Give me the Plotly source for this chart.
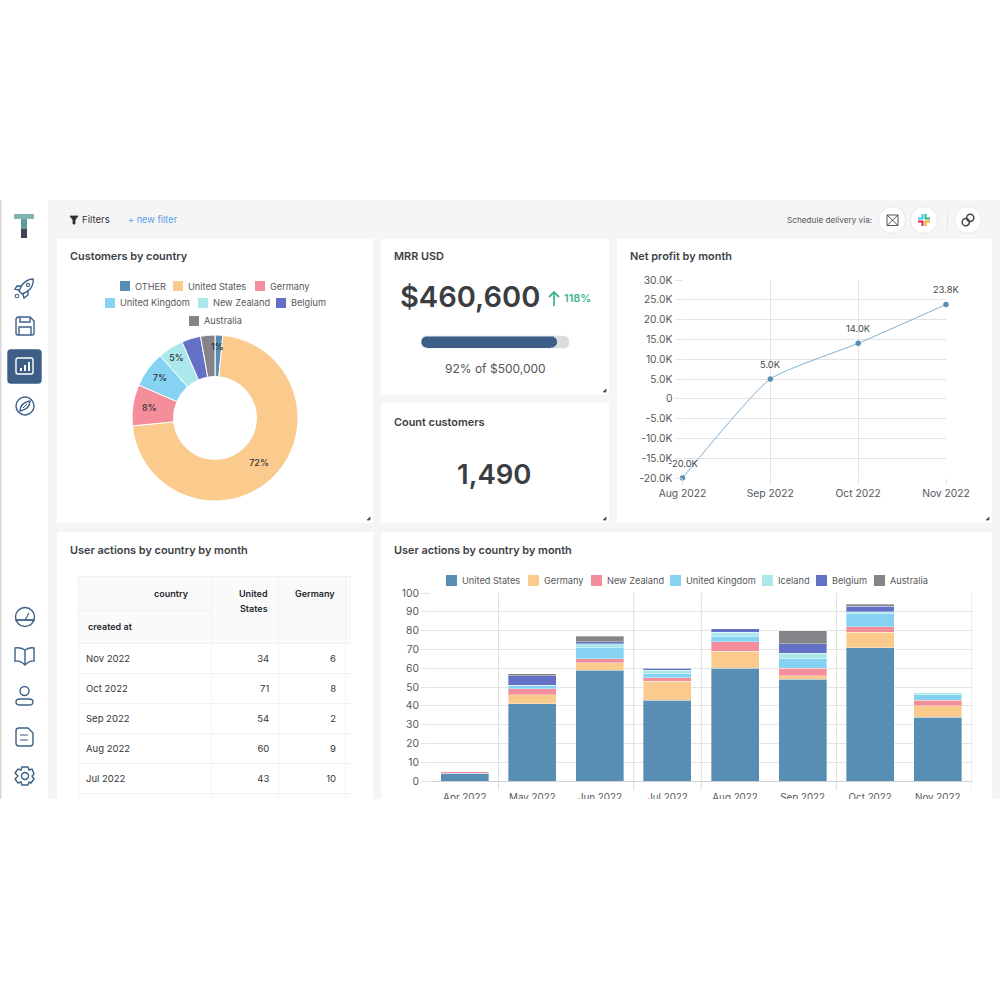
import re
import plotly.graph_objects as go

FONT = "Inter"
DARK = "#3b3f45"
NAVY = "#3d5f87"
GRID = "#e2e3e5"
CELL_LINE = "#ececec"

# customers donut
pie_labels = ["OTHER", "United States", "Germany", "United Kingdom", "New Zealand", "Belgium", "Australia"]
pie_values = [1.5, 72, 8, 7, 5, 3.7, 2.8]
pie_text = ["1%", "72%", "8%", "7%", "5%", "", ""]
pie_colors = ["#588eb3", "#fbcb8d", "#f48e9b", "#85d2f2", "#abe8ec", "#6470c6", "#858589"]

# net profit
profit_months = ["Aug 2022", "Sep 2022", "Oct 2022", "Nov 2022"]
profit_values = [-20000, 5000, 14000, 23800]
profit_labels = ["-20.0K", "5.0K", "14.0K", "23.8K"]
profit_ticks = [-20000, -15000, -10000, -5000, 0, 5000, 10000, 15000, 20000, 25000, 30000]
profit_ticktext = ["-20.0K", "-15.0K", "-10.0K", "-5.0K", "0", "5.0K", "10.0K", "15.0K", "20.0K", "25.0K", "30.0K"]

# metrics
mrr_value = 460600
mrr_goal = 500000
mrr_text = "$460,600"
mrr_change = "118%"
mrr_note = "92% of $500,000"
customers_text = "1,490"

# stacked bars
bar_months = ["Apr 2022", "May 2022", "Jun 2022", "Jul 2022", "Aug 2022", "Sep 2022", "Oct 2022", "Nov 2022"]
us = [4, 41, 59, 43, 60, 54, 71, 34]
germany = [0, 5, 4, 10, 9, 2, 8, 6]
new_zealand = [1, 3, 2, 2, 5, 4, 3, 3]
uk = [0, 2, 6, 2, 3, 5, 7, 3]
iceland = [0, 0, 2, 2, 2, 3, 1, 1]
belgium = [0, 5, 1, 1, 2, 5, 3, 0]
australia = [0, 1, 3, 0, 0, 7, 1, 0]
bar_names = ["United States", "Germany", "New Zealand", "United Kingdom", "Iceland", "Belgium", "Australia"]
bar_series = [us, germany, new_zealand, uk, iceland, belgium, australia]
bar_colors = ["#588eb3", "#fbcb8d", "#f48e9b", "#85d2f2", "#abe8ec", "#6470c6", "#858589"]

# table
table_months = ["Nov 2022", "Oct 2022", "Sep 2022", "Aug 2022", "Jul 2022", "Jun 2022"]
table_us = [34, 71, 54, 60, 43, 59]
table_germany = [6, 8, 2, 9, 10, 4]


def fx(x):
    return x / 1000


def fy(y):
    return 1 - y / 1000


shapes = []
notes = []


def rect(x0, y0, x1, y1, fill, line=None, layer="below"):
    shapes.append(dict(type="rect", xref="paper", yref="paper", x0=fx(x0), x1=fx(x1), y0=fy(y0), y1=fy(y1),
                       fillcolor=fill, line=dict(width=1 if line else 0, color=line or fill), layer=layer))


def circle(cx, cy, r, line=NAVY, fill="rgba(0,0,0,0)", width=1.4):
    shapes.append(dict(type="circle", xref="paper", yref="paper", x0=fx(cx - r), x1=fx(cx + r), y0=fy(cy - r), y1=fy(cy + r),
                       fillcolor=fill, line=dict(width=width, color=line), layer="below"))


def path(d, line=NAVY, fill="rgba(0,0,0,0)", width=1.4):
    # d is written in screen pixels, turned into paper fractions here
    nums = iter(re.findall(r"[A-Z]|-?[\d.]+", d))
    out = []
    is_x = True
    for tok in nums:
        if tok.isalpha():
            out.append(tok)
            is_x = True
        else:
            out.append(f"{fx(float(tok)) if is_x else fy(float(tok)):.5f}")
            is_x = not is_x
    shapes.append(dict(type="path", xref="paper", yref="paper", path=" ".join(out), fillcolor=fill,
                       line=dict(width=width, color=line), layer="below"))


def note(x, y, text, size=9.5, color=DARK, anchor="left", weight=400):
    notes.append(dict(xref="paper", yref="paper", x=fx(x), y=fy(y), text=text,
                      showarrow=False, xanchor=anchor, yanchor="middle", borderpad=0,
                      font=dict(family=FONT, size=size, color=color, weight=weight)))


# page
rect(48, 200, 1000, 799, "#f5f5f5")
rect(0, 200, 1.5, 799, "#d8d8d8")

cards = [(57, 239, 373, 523), (381, 239, 609, 395), (381, 403, 609, 523), (617, 239, 992, 523),
         (57, 532, 373, 799), (381, 532, 992, 799)]
for c in cards:
    rect(*c, "#ffffff")
    if c[3] < 799:
        path(f"M {c[2] - 3} {c[3] - 6} L {c[2] - 3} {c[3] - 3} L {c[2] - 6} {c[3] - 3} Z", line="#555555", fill="#555555", width=0.8)

# logo
rect(14, 214, 34, 219, "#7fb5ad")
rect(21, 219, 27, 229, "#5f9c98")
rect(21, 229, 27, 238, "#3f4257")

# sidebar icons
path("M 33 279 Q 27 279 22 285 L 19 291 L 22 294 Q 30 291 32 286 Q 34 282 33 279 Z")
path("M 21 286 L 17 286 L 15 289 L 19 290")
path("M 28 291 L 28 295 L 24 298 L 23 294")
circle(17, 296, 1.8, width=1.1)
circle(28, 285, 1.6, width=1.1)
path("M 19 317 L 30 317 L 34 321 L 34 333 Q 34 335 32 335 L 18 335 Q 16 335 16 333 L 16 320 Q 16 317 19 317 Z")
path("M 20 317 L 20 322 L 30 322 L 30 318")
path("M 19 335 L 19 327 L 31 327 L 31 335")
path("M 11 350 L 38 350 Q 41 350 41 353 L 41 380 Q 41 383 38 383 L 11 383 Q 8 383 8 380 L 8 353 Q 8 350 11 350 Z", line=NAVY, fill=NAVY)
path("M 18 358 L 31 358 Q 33 358 33 360 L 33 372 Q 33 374 31 374 L 18 374 Q 16 374 16 372 L 16 360 Q 16 358 18 358 Z", line="#ffffff")
path("M 21 371 L 21 368 M 25 371 L 25 365 M 29 371 L 29 362", line="#ffffff", width=2)
circle(25, 406, 9)
path("M 20 411 Q 20 403 30 401 Q 30 409 20 411 Z")
path("M 23 408 L 27 404", width=1)
circle(25, 617, 9.5)
path("M 15.5 620 L 34.5 620", width=1.8)
path("M 25 620 L 29 613", width=1.2)
path("M 25 650 Q 20 647 15 648 L 15 661 Q 20 660 25 665 Q 30 660 34 661 L 34 648 Q 30 647 25 650 L 25 665")
circle(24.5, 691, 4.5)
path("M 20 699 L 29 699 Q 33 699 33 702 Q 33 705 29 705 L 20 705 Q 16 705 16 702 Q 16 699 20 699 Z")
path("M 19 728 L 28 728 L 33 733 L 33 743 Q 33 746 30 746 L 19 746 Q 16 746 16 743 L 16 731 Q 16 728 19 728 Z")
path("M 20 735 L 28 735 M 20 740 L 28 740", width=1.2)
path("M 22 767 L 28 767 L 29 770 L 32 769 L 34 774 L 32 776 L 34 779 L 31 783 L 29 782 L 28 785 L 22 785 L 21 782 L 18 783 L 15 779 L 18 776 L 15 773 L 18 769 L 21 770 Z")
circle(25, 776, 3.5)

# filter bar
path("M 70 216 L 78 216 L 75 220 L 75 224 L 73 224 L 73 220 Z", line="#2e3033", fill="#2e3033", width=0.8)
note(81, 220, "Filters", 9.6, "#33363a")
note(127, 220, "+ new filter", 9.2, "#5b9cf0")
note(873, 220, "Schedule delivery via:", 8.2, "#555555", anchor="right")
for cx in (892, 924, 968):
    circle(cx, 220, 13.5, line="#e8e8e8", fill="#ffffff", width=1)
rect(947, 210, 947.6, 231, "#dddddd")
path("M 887 215 L 898 215 L 898 225.5 L 887 225.5 Z M 887 215 L 898 225.5 M 898 215 L 887 225.5", line="#444444", width=0.9)
path("M 922.5 214 L 922.5 218.5 L 918 218.5", line="#36c5f0", width=2)
path("M 925.5 214 L 925.5 218.5 L 930 218.5", line="#2eb67d", width=2)
path("M 930 221.5 L 925.5 221.5 L 925.5 226", line="#ecb22e", width=2)
path("M 918 221.5 L 922.5 221.5 L 922.5 226", line="#e01e5a", width=2)
circle(965.8, 222.2, 3.6, line="#444444", width=1.5)
circle(970.2, 217.8, 3.6, line="#444444", width=1.5)

# card titles
note(69, 256, "Customers by country", 10.9, weight=600)
note(393, 256, "MRR USD", 10.9, weight=600)
note(393, 422, "Count customers", 10.9, weight=600)
note(629, 256, "Net profit by month", 10.9, weight=600)
note(69, 550, "User actions by country by month", 10.9, weight=600)
note(393, 550, "User actions by country by month", 10.9, weight=600)

# metric text
note(470, 297, mrr_text, 29, "#3a3d42", anchor="center", weight=600)
path("M 554 306 L 554 292 M 549 297 L 554 292 L 559 297", line="#3fb68b", width=1.8)
note(577, 298, mrr_change, 11, "#3fb68b", anchor="center", weight=600)
note(495, 368, mrr_note, 12, "#555555", anchor="center")
note(494, 474, customers_text, 27.5, "#3a3d42", anchor="center", weight=600)
path("M 427 336 L 563 336 Q 569 336 569 342 Q 569 348 563 348 L 427 348 Q 421 348 421 342 Q 421 336 427 336 Z", line="#dcdcdc", fill="#dcdcdc", width=0.5)

# hand placed legends, the rows are centred in the source
pie_legend = [(120, 286), (173, 286), (255, 286), (105, 303), (198, 303), (276, 303), (189, 321)]
for name, color, (x, y) in zip(pie_labels, pie_colors, pie_legend):
    rect(x, y - 5, x + 10, y + 5, color)
    note(x + 14, y, name, 9.2, "#55585c")
bar_legend = [446, 528, 591, 670, 762, 816, 874]
for name, color, x in zip(bar_names, bar_colors, bar_legend):
    rect(x, 575, x + 11, 586, color)
    note(x + 15, 580, name, 9.2, "#55585c")

# 1% does not fit its slice, plotly would shrink it away
note(217, 346, pie_text[0], 9, "#2f3236", anchor="center", weight=500)

# table header and grid
rect(78, 576, 351, 643, "#fafafa")
for x in (78, 211, 278, 345):
    rect(x, 576, x + 0.7, 799, CELL_LINE)
rect(78, 576, 351, 576.7, CELL_LINE)
rect(78, 610, 211, 610.7, CELL_LINE)
for y in (643, 673, 703, 733, 763, 793):
    rect(78, y, 351, y + 0.7, CELL_LINE)
note(190, 593, "country", 9, "#25282c", anchor="right", weight=600)
note(87, 626, "created at", 9, "#25282c", weight=600)
note(269, 593, "United", 9, "#25282c", anchor="right", weight=600)
note(269, 608, "States", 9, "#25282c", anchor="right", weight=600)
note(336, 593, "Germany", 9, "#25282c", anchor="right", weight=600)

# vertical grid of the bar chart sits on every other band edge
for edge in (0.5, 2.5, 3.5, 5.5, 7.5):
    shapes.append(dict(type="line", xref="x", yref="paper", x0=edge, x1=edge, y0=fy(790), y1=fy(593),
                       line=dict(color="#dcdde0", width=1), layer="below"))

# page ends here, ticks get cut
rect(0, 799, 1000, 1000, "#ffffff", layer="above")

fig = go.Figure()

fig.add_trace(go.Pie(labels=pie_labels, values=pie_values, text=[""] + pie_text[1:], textinfo="text", textposition="inside",
                     insidetextorientation="horizontal", sort=False, direction="clockwise", rotation=0, hole=0.5,
                     marker=dict(colors=pie_colors, line=dict(color="#ffffff", width=1)),
                     textfont=dict(family=FONT, size=9, color="#2f3236", weight=500), showlegend=False,
                     domain=dict(x=[fx(132), fx(298)], y=[fy(501), fy(335)])))

for name, values, color in zip(bar_names, bar_series, bar_colors):
    fig.add_trace(go.Bar(x=bar_months, y=values, name=name, marker=dict(color=color, line=dict(color="rgba(255,255,255,0.35)", width=1)),
                         showlegend=False, xaxis="x", yaxis="y"))

fig.add_trace(go.Scatter(x=profit_months, y=profit_values, mode="lines+markers", xaxis="x2", yaxis="y2", showlegend=False,
                         line=dict(color="#7fb0cf", width=1, shape="spline", smoothing=0.5),
                         marker=dict(color="#588eb3", size=5.5), cliponaxis=False))
for m, v, t in zip(profit_months, profit_values, profit_labels):
    notes.append(dict(xref="x2", yref="y2", x=m, y=v, text=t, showarrow=False, yshift=15,
                      font=dict(family=FONT, size=9.3, color="#44474b")))

fig.add_trace(go.Bar(x=[mrr_value], y=[0], orientation="h", width=[1], base=0, xaxis="x3", yaxis="y3", showlegend=False,
                     marker=dict(color=NAVY, cornerradius=6)))

# empty header strip and cells stay see-through, header and grid are drawn behind,
# table sits 3px low so the text lands mid row
fig.add_trace(go.Table(domain=dict(x=[fx(78), fx(351)], y=[fy(799), fy(630.5)]), columnwidth=[133, 67, 67, 6],
                       header=dict(values=[], height=0, fill=dict(color="rgba(0,0,0,0)"), line=dict(color="rgba(0,0,0,0)", width=0)),
                       cells=dict(values=[table_months, table_us, table_germany, [""] * len(table_months)],
                                  height=30, align=["left", "right", "right", "right"],
                                  fill=dict(color="rgba(0,0,0,0)"), line=dict(color="rgba(0,0,0,0)", width=0),
                                  font=dict(family=FONT, size=9.5, color="#33363a"))))

tick_font = dict(family=FONT, size=10.3, color="#55585c")
fig.update_layout(
    width=1000, height=1000, margin=dict(l=0, r=0, t=0, b=0), autosize=False,
    paper_bgcolor="#ffffff", plot_bgcolor="rgba(0,0,0,0)", barmode="stack", bargap=0.29,
    shapes=shapes, annotations=notes, showlegend=False,
    xaxis=dict(domain=[fx(431), fx(971.5)], anchor="y", type="category", categoryorder="array", categoryarray=bar_months,
               range=[-0.5, 7.5], showgrid=False, ticks="outside", ticklen=7, tickcolor="rgba(0,0,0,0)",
               tickfont=dict(family=FONT, size=9.8, color="#55585c"),
               showline=True, linecolor="#cfd0d3", fixedrange=True, automargin=False),
    yaxis=dict(domain=[fy(781), fy(593)], anchor="x", range=[0, 100], dtick=10, gridcolor=GRID, ticks="outside", ticklen=9,
               tickcolor=GRID, tickfont=tick_font, zeroline=False, showline=False, fixedrange=True, automargin=False),
    xaxis2=dict(domain=[fx(682.5), fx(946)], anchor="y2", type="category", range=[0, 3], gridcolor=GRID, showgrid=True,
                ticks="outside", ticklen=6, tickcolor=GRID, tickfont=tick_font, showline=False, zeroline=False, fixedrange=True, automargin=False),
    yaxis2=dict(domain=[fy(478), fy(280)], anchor="x2", range=[-20000, 30000], tickvals=profit_ticks, ticktext=profit_ticktext,
                gridcolor=GRID, ticks="outside", ticklen=7, tickcolor=GRID, tickfont=tick_font, zeroline=False, fixedrange=True, automargin=False),
    xaxis3=dict(domain=[fx(421), fx(569)], anchor="y3", range=[0, mrr_goal], visible=False, fixedrange=True, automargin=False),
    yaxis3=dict(domain=[fy(348), fy(336)], anchor="x3", range=[-0.5, 0.5], visible=False, fixedrange=True, automargin=False),
)

fig.write_html("out.html", config=dict(displayModeBar=False),
               post_script="document.body.style.margin='0';document.body.style.overflow='hidden';")
